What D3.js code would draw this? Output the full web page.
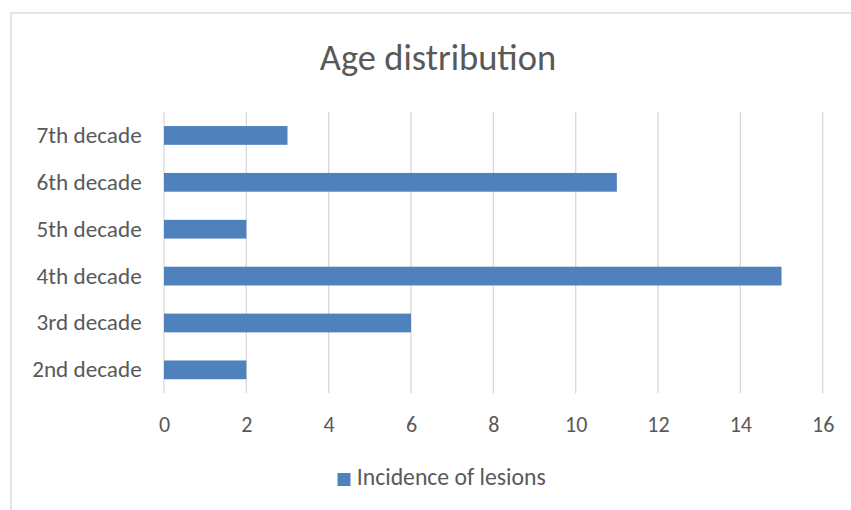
<!DOCTYPE html>
<html>
<head>
<meta charset="utf-8">
<script src="https://cdn.jsdelivr.net/npm/d3@7"></script>
<style>
  html, body { margin: 0; padding: 0; background: #ffffff; }
  svg { display: block; font-family: Carlito, Lato, sans-serif; }
</style>
</head>
<body>
<svg id="chart" width="851" height="510"></svg>
<script>
const title = "Age distribution";
const categories = ["7th decade", "6th decade", "5th decade", "4th decade", "3rd decade", "2nd decade"];
const values = [3, 11, 2, 15, 6, 2];
const xTicks = [0, 2, 4, 6, 8, 10, 12, 14, 16];
const seriesName = "Incidence of lesions";

const svg = d3.select("#chart");
const W = 851, H = 510;
const plot = { left: 164, right: 822.7, top: 112, bottom: 393.3 };
const textColor = "#595959";
const gridColor = "#D9D9D9";
const barColor = "#4F81BD";
const font = "Carlito, Lato, sans-serif";

svg.append("rect").attr("x", 11).attr("y", 13).attr("width", W + 10).attr("height", H + 10)
  .attr("fill", "#fff").attr("stroke", gridColor).attr("stroke-width", 1.3);

const x = d3.scaleLinear().domain([0, 16]).range([plot.left, plot.right]);
const y = d3.scaleBand().domain(categories).range([plot.top, plot.bottom])
  .paddingInner(0.6).paddingOuter(0.3);

// gridlines
svg.append("g").selectAll("line").data(xTicks).join("line")
  .attr("x1", d => x(d)).attr("x2", d => x(d))
  .attr("y1", plot.top).attr("y2", plot.bottom)
  .attr("stroke", gridColor).attr("stroke-width", 1.3);

// bars
svg.append("g").selectAll("rect").data(categories).join("rect")
  .attr("x", x(0))
  .attr("y", d => y(d))
  .attr("width", (d, i) => x(values[i]) - x(0))
  .attr("height", y.bandwidth())
  .attr("fill", barColor);

// x axis tick labels
const xAxis = d3.axisBottom(x).tickValues(xTicks).tickSize(0).tickPadding(0);
const gx = svg.append("g").attr("transform", `translate(0, ${plot.bottom})`).call(xAxis);
gx.select(".domain").remove();
gx.selectAll("text").attr("fill", textColor).attr("font-size", 22)
  .attr("font-family", font)
  .attr("dy", null).attr("y", 432 - plot.bottom);

// y axis labels
const yAxis = d3.axisLeft(y).tickSize(0).tickPadding(0);
const gy = svg.append("g").attr("transform", `translate(${141.7}, 0)`).call(yAxis);
gy.select(".domain").remove();
gy.selectAll("text").attr("fill", textColor).attr("font-size", 23.2)
  .attr("font-family", font)
  .attr("dy", null).attr("y", 7.5);

// title
svg.append("text").attr("x", 438).attr("y", 70).attr("text-anchor", "middle")
  .attr("fill", textColor).attr("font-size", 36.5).attr("font-weight", 300)
  .attr("font-family", font)
  .text(title);

// legend
const lg = svg.append("g").attr("transform", "translate(337.5, 473)");
lg.append("rect").attr("width", 13).attr("height", 13).attr("fill", barColor);
lg.append("text").attr("x", 19.3).attr("y", 11.5)
  .attr("fill", textColor).attr("font-size", 23.7).attr("font-family", font).text(seriesName);
</script>
</body>
</html>
